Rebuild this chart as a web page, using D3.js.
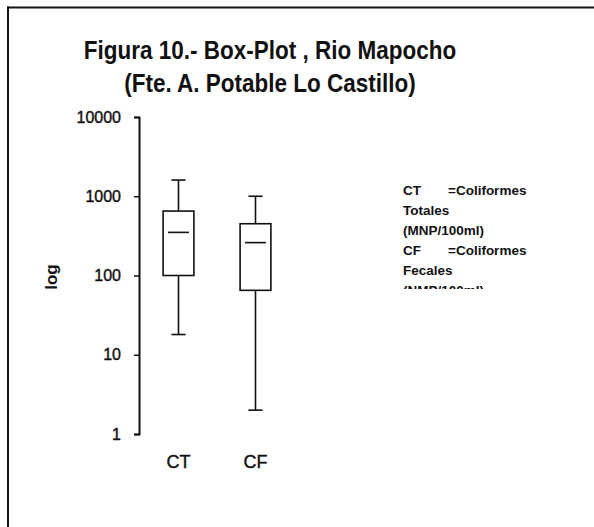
<!DOCTYPE html>
<html>
<head>
<meta charset="utf-8">
<script src="https://cdn.jsdelivr.net/npm/d3@7/dist/d3.min.js"></script>
<style>
  html, body { margin: 0; padding: 0; background: #fff; }
  svg { display: block; }
  text { font-family: "Liberation Sans", Arial, sans-serif; fill: #111; }
</style>
</head>
<body>
<svg id="chart" width="594" height="527"></svg>
<script>
// ---- data ----
const categories = ["CT", "CF"];
const whiskerLow  = [18, 2];
const q1          = [100, 65];
const median      = [350, 260];
const q3          = [650, 450];
const whiskerHigh = [1600, 1000];
const tickValues  = [1, 10, 100, 1000, 10000];
const titleLines  = ["Figura 10.- Box-Plot , Rio Mapocho", "(Fte. A. Potable Lo Castillo)"];
const yLabel = "log";
const legendLines = ["Totales", "(MNP/100ml)", "Fecales", "(NMP/100ml)"];

const svg = d3.select("#chart");

// frame (left and top edges of a scanned border)
svg.append("line").attr("x1", 7).attr("y1", 7.5).attr("x2", 594).attr("y2", 7.5)
  .attr("stroke", "#111").attr("stroke-width", 2);
svg.append("line").attr("x1", 8).attr("y1", 6.5).attr("x2", 8).attr("y2", 527)
  .attr("stroke", "#111").attr("stroke-width", 2);

// title
svg.append("g").selectAll("text").data(titleLines).join("text")
  .attr("transform", (d, i) => `translate(270,${59 + i * 33}) scale(1,1.15)`)
  .attr("text-anchor", "middle")
  .attr("font-size", 22.5).attr("font-weight", "bold")
  .text(d => d);

// scales
const y = d3.scaleLog().domain([1, 10000]).range([434, 117]);
const x = d3.scaleBand().domain(categories).range([140, 294])
  .paddingInner(0.6).paddingOuter(0.3);

// y axis
const yAxis = d3.axisLeft(y).tickValues(tickValues).tickFormat(d3.format("d"))
  .tickSizeInner(5).tickSizeOuter(5).tickPadding(13);
const gy = svg.append("g").attr("transform", "translate(139,0)").call(yAxis);
gy.select(".domain").attr("stroke", "#111").attr("stroke-width", 2);
gy.selectAll(".tick line").attr("stroke", "#111").attr("stroke-width", 1.5);
gy.selectAll(".tick text").attr("font-size", 16).attr("fill", "#111")
  .attr("stroke", "#111").attr("stroke-width", 0.4)
  .attr("font-family", "Liberation Sans, Arial, sans-serif");

// y label
svg.append("text")
  .attr("transform", "translate(57,277) rotate(-90)")
  .attr("text-anchor", "middle")
  .attr("font-size", 17).attr("font-weight", "bold")
  .text(yLabel);

// boxes
const rows = categories.map((c, i) => ({
  c, lo: whiskerLow[i], q1: q1[i], med: median[i], q3: q3[i], hi: whiskerHigh[i]
}));
const bw = x.bandwidth();
const g = svg.append("g").attr("stroke", "#111").attr("stroke-width", 1.6).attr("fill", "none");
rows.forEach(r => {
  const cx = x(r.c) + bw / 2;
  // whiskers
  g.append("line").attr("x1", cx).attr("x2", cx).attr("y1", y(r.q3)).attr("y2", y(r.hi));
  g.append("line").attr("x1", cx).attr("x2", cx).attr("y1", y(r.q1)).attr("y2", y(r.lo));
  g.append("line").attr("x1", cx - bw * 0.23).attr("x2", cx + bw * 0.23).attr("y1", y(r.hi)).attr("y2", y(r.hi));
  g.append("line").attr("x1", cx - bw * 0.23).attr("x2", cx + bw * 0.23).attr("y1", y(r.lo)).attr("y2", y(r.lo));
  // box
  g.append("rect").attr("x", x(r.c)).attr("width", bw)
    .attr("y", y(r.q3)).attr("height", y(r.q1) - y(r.q3)).attr("fill", "#fff");
  // median
  g.append("line").attr("x1", cx - bw * 0.34).attr("x2", cx + bw * 0.34)
    .attr("y1", y(r.med)).attr("y2", y(r.med));
});

// category labels
svg.append("g").selectAll("text").data(categories).join("text")
  .attr("x", d => x(d) + bw / 2).attr("y", 468)
  .attr("text-anchor", "middle").attr("font-size", 18)
  .attr("stroke", "#111").attr("stroke-width", 0.4)
  .text(d => d);

// legend (clipped text box)
svg.append("clipPath").attr("id", "legclip").append("rect")
  .attr("x", 395).attr("y", 180).attr("width", 170).attr("height", 109);
const leg = svg.append("g").attr("clip-path", "url(#legclip)")
  .attr("font-size", 13.5).attr("font-weight", "bold");
const legRows = [
  { a: categories[0], b: "=Coliformes" },
  { a: legendLines[0] },
  { a: legendLines[1] },
  { a: categories[1], b: "=Coliformes" },
  { a: legendLines[2] },
  { a: legendLines[3] }
];
legRows.forEach((r, i) => {
  const yy = 195 + i * 20;
  leg.append("text").attr("x", 403).attr("y", yy).text(r.a)
    .style("font-family", "'Liberation Sans Narrow', 'Liberation Sans', Arial, sans-serif");
  if (r.b) leg.append("text").attr("x", 448).attr("y", yy).text(r.b)
    .style("font-family", "'Liberation Sans Narrow', 'Liberation Sans', Arial, sans-serif");
});
</script>
</body>
</html>
